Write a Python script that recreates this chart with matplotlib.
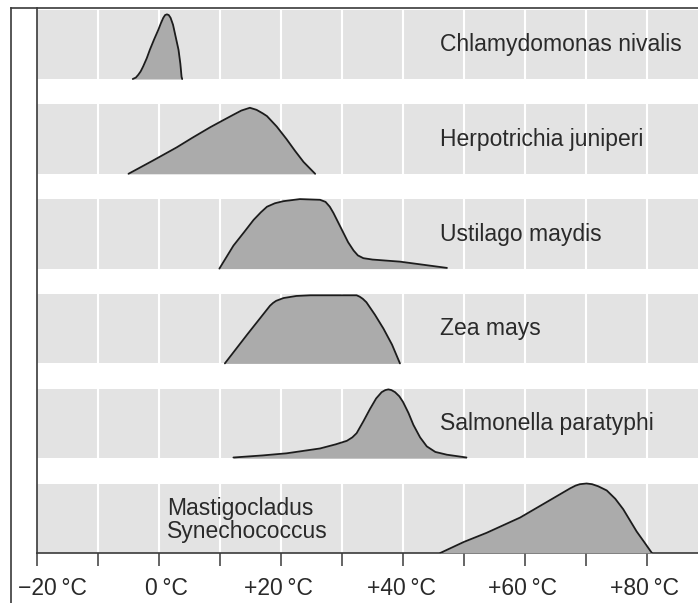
import matplotlib
matplotlib.use("Agg")
import matplotlib.pyplot as plt
from matplotlib.lines import Line2D

plt.rcParams['font.family'] = ['Liberation Sans', 'DejaVu Sans']

# ---- data (temperature in °C, relative activity 0..1) ----
species = ["Chlamydomonas nivalis", "Herpotrichia juniperi", "Ustilago maydis",
           "Zea mays", "Salmonella paratyphi", "Mastigocladus\nSynechococcus"]

chlam_t = [-4.3, -3.8, -3.4, -3.0, -2.6, -2.0, -1.5, -0.8, -0.1, 0.3, 0.7, 1.0, 1.3,
           1.6, 1.9, 2.3, 2.7, 3.0, 3.2, 3.5, 3.7, 3.8]
chlam_h = [0.0, 0.02, 0.06, 0.11, 0.18, 0.30, 0.42, 0.57, 0.71, 0.80, 0.88, 0.92, 0.93,
           0.92, 0.88, 0.78, 0.62, 0.50, 0.42, 0.22, 0.03, 0.0]

herp_t = [-5.0, -1.0, 2.9, 5.5, 8.4, 10.5, 12.2, 13.5, 14.9, 16.0, 17.0, 17.7, 19.3,
          20.9, 22.3, 23.7, 25.6]
herp_h = [0.0, 0.19, 0.38, 0.52, 0.67, 0.77, 0.85, 0.91, 0.95, 0.92, 0.87, 0.83, 0.68,
          0.50, 0.33, 0.17, 0.0]

ust_t = [9.9, 12.2, 14.0, 15.5, 16.7, 17.7, 19.0, 20.4, 23.1, 26.4, 27.3, 28.0, 28.6,
         29.4, 30.2, 31.0, 31.9, 32.6, 33.5, 35.0, 39.5, 47.2]
ust_h = [0.0, 0.33, 0.53, 0.70, 0.81, 0.89, 0.94, 0.97, 1.0, 0.99, 0.96, 0.89, 0.80,
         0.66, 0.52, 0.38, 0.26, 0.19, 0.15, 0.13, 0.10, 0.01]

zea_t = [10.8, 14.5, 18.2, 18.7, 19.2, 20.4, 22.5, 24.8, 32.4, 32.9, 33.4, 34.0, 35.4,
         36.8, 38.2, 39.5]
zea_h = [0.0, 0.42, 0.83, 0.87, 0.90, 0.94, 0.97, 0.98, 0.98, 0.96, 0.93, 0.88, 0.70,
         0.50, 0.27, 0.0]

salm_t = [12.2, 17.0, 20.9, 26.4, 29.0, 30.8, 31.7, 32.4, 33.5, 34.6, 35.6, 36.5, 37.1,
          37.6, 38.1, 38.7, 39.4, 40.0, 40.9, 41.7, 42.8, 43.9, 45.3, 47.2, 50.4]
salm_h = [0.01, 0.04, 0.07, 0.14, 0.20, 0.25, 0.30, 0.36, 0.53, 0.71, 0.86, 0.95, 0.98,
          0.99, 0.98, 0.95, 0.89, 0.81, 0.65, 0.48, 0.30, 0.17, 0.09, 0.05, 0.01]

mast_t = [46.1, 50.0, 53.7, 59.2, 63.5, 67.4, 68.3, 69.0, 70.1, 71.0, 72.0, 73.4, 74.8,
          76.1, 77.2, 78.3, 79.6, 80.8]
mast_h = [0.0, 0.16, 0.29, 0.51, 0.73, 0.93, 0.97, 0.99, 1.0, 0.99, 0.96, 0.90, 0.78,
          0.63, 0.47, 0.31, 0.15, 0.0]

curves_t = [chlam_t, herp_t, ust_t, zea_t, salm_t, mast_t]
curves_h = [chlam_h, herp_h, ust_h, zea_h, salm_h, mast_h]

tick_values = [-20, -10, 0, 10, 20, 30, 40, 50, 60, 70, 80]
label_values = [-20, 0, 20, 40, 60, 80]
label_texts = ["\u221220\u2009°C", "0\u2009°C", "+20\u2009°C", "+40\u2009°C", "+60\u2009°C", "+80\u2009°C"]

# ---- style ----
band_color = "#e3e3e3"
fill_color = "#ababab"
line_color = "#1c1c1c"
frame_color = "#3a3a3a"
text_color = "#2a2a2a"
fs = 16.5

W, H = 698, 603
fig = plt.figure(figsize=(W / 100, H / 100), dpi=100)
ax = fig.add_axes([37 / W, (H - 553) / H, (W - 37) / W, (553 - 8) / H])

band_step = 94.8
band_h = 69.5
ax.set_xlim(-20, 88.36)
ax.set_ylim(0, 545)

n = len(species)
for i in range(n):
    base = (n - 1 - i) * band_step
    ax.axhspan(base, base + band_h, color=band_color, lw=0, zorder=0)

for v in tick_values[1:]:
    ax.axvline(v, color="white", lw=1.5, zorder=1)

for i, (ts, hs) in enumerate(zip(curves_t, curves_h)):
    base = (n - 1 - i) * band_step
    ys = [base + h * band_h for h in hs]
    ax.fill_between(ts, base, ys, color=fill_color, lw=0, zorder=3)
    ax.plot(ts, ys, color=line_color, lw=1.3, zorder=4,
            solid_joinstyle='round', solid_capstyle='round')

# species labels
for i, name in enumerate(species):
    base = (n - 1 - i) * band_step
    if "\n" in name:
        lines = name.split("\n")
        ax.text(1.26, base + 38, lines[0], fontsize=fs, color=text_color,
                ha='left', va='baseline', zorder=5)
        ax.text(1.26, base + 15, lines[1], fontsize=fs, color=text_color,
                ha='left', va='baseline', zorder=5)
    else:
        ax.text(46.1, base + 28, name, fontsize=fs, color=text_color,
                ha='left', va='baseline', zorder=5)

# axes styling
for s in ['top', 'right']:
    ax.spines[s].set_visible(False)
for s in ['left', 'bottom']:
    ax.spines[s].set_color(frame_color)
    ax.spines[s].set_linewidth(1.2)
ax.set_yticks([])
ax.set_xticks(tick_values)
ax.set_xticklabels([])
ax.tick_params(axis='x', direction='out', length=9.5, width=1.1, color=frame_color)

label_dx = [15.5, 7, -3, -2, -3, -3]  # pixel nudges
for v, t, dx in zip(label_values, label_texts, label_dx):
    ax.annotate(t, xy=(v, 0), xycoords=('data', 'axes fraction'),
                xytext=(dx * 0.72, -42 * 0.72), textcoords='offset points',
                ha='center', va='baseline', fontsize=fs, color=text_color,
                annotation_clip=False)

# outer frame
fig.add_artist(Line2D([11 / W, 11 / W], [0, (H - 8) / H], color=frame_color, lw=1.2,
                      transform=fig.transFigure))
fig.add_artist(Line2D([11 / W, 1.0], [(H - 8) / H, (H - 8) / H], color=frame_color, lw=1.2,
                      transform=fig.transFigure))

fig.savefig("out.png", dpi=100)
